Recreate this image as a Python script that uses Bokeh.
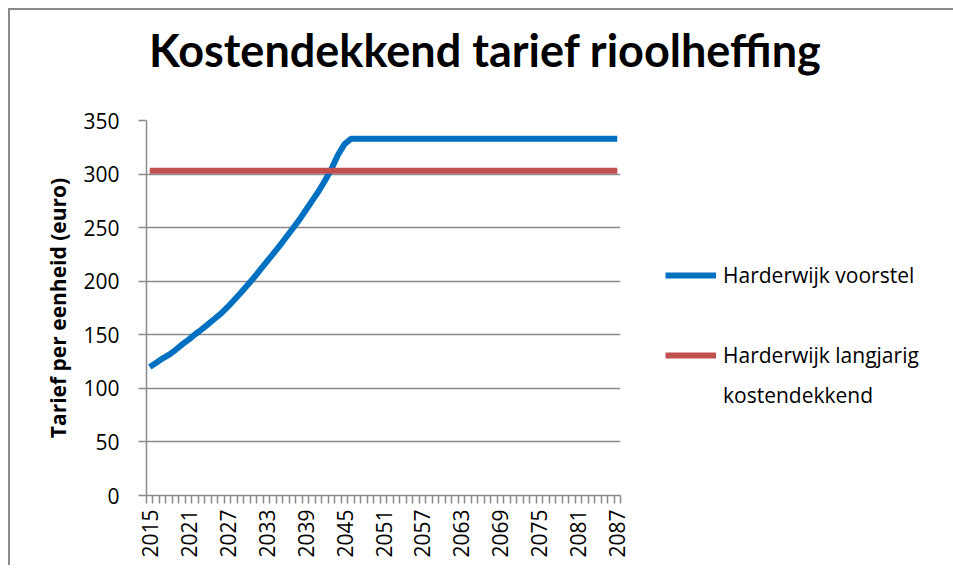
import math
from bokeh.plotting import figure
from bokeh.layouts import column
from bokeh.models import FixedTicker, Legend, LegendItem, Div, ColumnDataSource
from bokeh.embed import file_html
from bokeh.resources import INLINE

# ---- data ----
years = list(range(2015, 2088))
voorstel = [
    120, 124, 128, 131.5, 136, 141, 145.5, 150.5, 155, 160,
    165, 170, 176, 182.5, 189, 196, 203, 210.5, 218, 225.5,
    233, 241, 249, 257, 266, 275, 284, 294, 305, 318,
    328, 333, 333, 333, 333, 333, 333, 333, 333, 333,
    333, 333, 333, 333, 333, 333, 333, 333, 333, 333,
    333, 333, 333, 333, 333, 333, 333, 333, 333, 333,
    333, 333, 333, 333, 333, 333, 333, 333, 333, 333,
    333, 333, 333,
]
langjarig = [
    303, 303, 303, 303, 303, 303, 303, 303, 303, 303,
    303, 303, 303, 303, 303, 303, 303, 303, 303, 303,
    303, 303, 303, 303, 303, 303, 303, 303, 303, 303,
    303, 303, 303, 303, 303, 303, 303, 303, 303, 303,
    303, 303, 303, 303, 303, 303, 303, 303, 303, 303,
    303, 303, 303, 303, 303, 303, 303, 303, 303, 303,
    303, 303, 303, 303, 303, 303, 303, 303, 303, 303,
    303, 303, 303,
]
x_label_years = [2015, 2021, 2027, 2033, 2039, 2045, 2051, 2057, 2063, 2069, 2075, 2081, 2087]
y_ticks = [0, 50, 100, 150, 200, 250, 300, 350]
series_names = ["Harderwijk voorstel", "Harderwijk langjarig", "kostendekkend"]
title_text = "Kostendekkend tarief rioolheffing"
y_title = "Tarief per eenheid (euro)"

source = ColumnDataSource(data=dict(year=years, voorstel=voorstel, langjarig=langjarig))

GRID = "#8a8a8a"
TXT = "#000000"
FONT = "Open Sans"

p = figure(frame_width=474, frame_height=375, output_backend="svg", toolbar_location=None,
           x_range=(years[0] - 0.5, years[-1] + 0.5), y_range=(0, 350),
           min_border_left=136, min_border_right=318, min_border_top=12, min_border_bottom=70)
p.outline_line_color = None
p.margin = 0

r_blue = p.line("year", "voorstel", source=source, line_color="#0070C0", line_width=6)
r_red = p.line("year", "langjarig", source=source, line_color="#C0504D", line_width=6)

# x axis
minor = [y - 0.5 for y in years] + [years[-1] + 0.5]
p.xaxis.ticker = FixedTicker(ticks=x_label_years, minor_ticks=minor)
p.xaxis.major_label_orientation = math.pi / 2
p.xaxis.major_tick_line_color = None
p.xaxis.major_tick_out = 0
p.xaxis.major_tick_in = 0
p.xaxis.minor_tick_line_color = GRID
p.xaxis.minor_tick_line_width = 1.5
p.xaxis.minor_tick_out = 8
p.xaxis.minor_tick_in = 0
p.xaxis.major_label_standoff = 6
p.xaxis.axis_line_color = GRID
p.xaxis.axis_line_width = 1.5
p.xaxis.major_label_text_font = FONT
p.xaxis.major_label_text_font_size = "21px"
p.xaxis.major_label_text_color = TXT
p.xgrid.grid_line_color = None

# y axis
p.yaxis.ticker = FixedTicker(ticks=y_ticks)
p.yaxis.minor_tick_line_color = None
p.yaxis.major_tick_line_color = GRID
p.yaxis.major_tick_line_width = 1.5
p.yaxis.major_tick_out = 8
p.yaxis.major_tick_in = 0
p.yaxis.major_label_standoff = 19
p.yaxis.axis_line_color = GRID
p.yaxis.axis_line_width = 1.5
p.yaxis.major_label_text_font = FONT
p.yaxis.major_label_text_font_size = "21px"
p.yaxis.major_label_text_color = TXT
p.yaxis.axis_label = y_title
p.yaxis.axis_label_text_font = FONT
p.yaxis.axis_label_text_font_style = "bold"
p.yaxis.axis_label_text_font_size = "21px"
p.yaxis.axis_label_text_color = TXT
p.yaxis.axis_label_standoff = 8
p.ygrid.grid_line_color = GRID
p.ygrid.grid_line_width = 1.5

# legend (one legend; an unlabelled spacer row sits between the two series)
legend = Legend(items=[LegendItem(label=series_names[0], renderers=[r_blue]),
                       LegendItem(label=" ", renderers=[]),
                       LegendItem(label=series_names[1], renderers=[r_red]),
                       LegendItem(label=series_names[2], renderers=[])],
                location=(45, 82), orientation="vertical",
                border_line_color=None, background_fill_alpha=0,
                glyph_width=51, glyph_height=36, label_height=36, label_standoff=7,
                spacing=4, padding=0, margin=0,
                label_text_font=FONT, label_text_font_size="21px", label_text_color=TXT)
p.add_layout(legend, "right")

# title block above the plot
title = Div(text=('<div style="margin:18px 0 0 139px; font-family:Lato; font-weight:bold; '
                  'font-size:45px; line-height:1; white-space:nowrap; color:#000;">'
                  + title_text + '</div>'),
            width=928, height=98, margin=0)

page = column(title, p, spacing=0)
page.styles = {"border-left": "2px solid #8a8a8a", "border-top": "2px solid #8a8a8a",
               "margin-left": "8px", "margin-top": "8px"}

open("out.html", "w").write(file_html(page, INLINE))
